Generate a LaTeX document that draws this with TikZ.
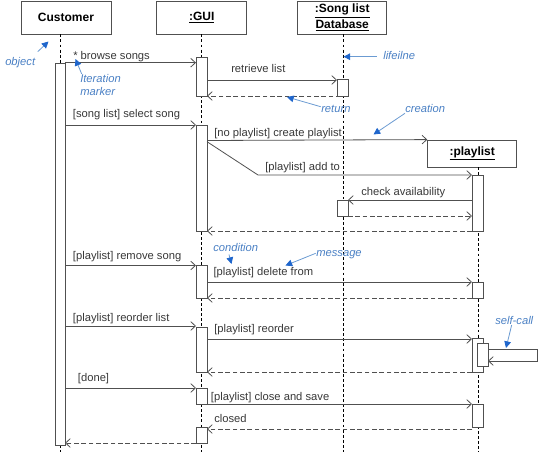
\documentclass[tikz,border=0pt]{standalone}
\usepackage{fontspec}
\setmainfont{Liberation Sans}
\usetikzlibrary{arrows.meta,fit}
\definecolor{ln}{HTML}{505050}
\definecolor{tx}{HTML}{383838}
\definecolor{bt}{HTML}{4A80C4}
\definecolor{bl}{HTML}{6B9BD2}
\definecolor{bh}{HTML}{1F66CC}
\tikzset{
  headbox/.style={draw=ln, line width=0.6pt, fill=white, inner sep=0pt, text=black,
    font=\fontsize{9}{12}\selectfont\bfseries, align=center},
  actbar/.style={draw=ln, line width=0.6pt, fill=white, inner sep=0pt, outer sep=0pt},
  life/.style={draw=black, line width=0.5pt, dash pattern=on 2.2pt off 1.6pt},
  msg/.style={draw=ln, line width=0.6pt, -{Straight Barb[length=3.5pt,width=6.5pt]}},
  ret/.style={msg, dash pattern=on 3.5pt off 2pt},
  lbl/.style={font=\fontsize{8.4}{10}\selectfont, text=tx, inner sep=0pt, anchor=base west},
  note/.style={font=\fontsize{8.4}{9.5}\selectfont\itshape, text=bt, inner sep=0pt, anchor=base west},
  pointer/.style={draw=bl, line width=0.6pt, -{Triangle[length=5pt,width=5pt,color=bh]}},
}
\begin{document}
\begin{tikzpicture}[x=0.75pt,y=-0.75pt]
\useasboundingbox (0,0) rectangle (550,452);

% header boxes
\node[headbox, minimum width=67.5pt, minimum height=24.75pt] (cust) at (66,17.5) {Customer};
\node[headbox, minimum width=67.5pt, minimum height=24.75pt] (gui) at (201.7,17.5) {\underline{:GUI}};
\node[headbox, minimum width=66.75pt, minimum height=24.75pt] (db) at (342.2,17.5) {\underline{:Song list}\\\underline{Database}};
\node[headbox, minimum width=66.75pt, minimum height=20.25pt] (pl) at (472.2,153.5) {\underline{:playlist}};

% lifelines
\draw[life] (cust.south -| 60,0) -- (60,452);
\draw[life] (gui.south -| 201,0) -- (201,452);
\draw[life] (db.south -| 343,0) -- (343,452);
\draw[life] (pl.south -| 478,0) -- (478,452);

% activation bars
\node[actbar, fit={(55,63)(65,445)}] (c1) {};
\node[actbar, fit={(196,57)(207,96)}] (g1) {};
\node[actbar, fit={(337,79)(348,96)}] (d1) {};
\node[actbar, fit={(196,125)(207,231)}] (g2) {};
\node[actbar, fit={(472,175)(483,231)}] (p1) {};
\node[actbar, fit={(337,200)(348,216)}] (d2) {};
\node[actbar, fit={(196,265.5)(207,298)}] (g3) {};
\node[actbar, fit={(472,282)(483,298)}] (p2) {};
\node[actbar, fit={(196,327)(207,372)}] (g4) {};
\node[actbar, fit={(472,338.5)(483,372)}] (p3) {};
\node[actbar, fit={(477,343.5)(488,366)}] (p3s) {};
\node[actbar, fit={(196,388)(207,404)}] (g5) {};
\node[actbar, fit={(472,404)(483,427)}] (p4) {};
\node[actbar, fit={(196,427)(207,443)}] (g6) {};

% messages
\draw[msg] (c1.east |- 0,62.7) -- (g1.west |- 0,62.7);
\draw[msg] (g1.east |- 0,80) -- (d1.west |- 0,80);
\draw[ret] (d1.south east) -- (g1.south east);
\draw[msg] (c1.east |- g2.north) -- (g2.north west);
\draw[msg] (g2.east |- 0,140.5) -- (pl.north west);
\coordinate (bend) at (258,175);
\draw[msg] (g2.east |- 0,141.7) -- (bend) -- (p1.north west);
\draw[msg] (p1.west |- d2.north) -- (d2.north east);
\draw[ret] (d2.south east) -- (p1.west |- d2.south);
\draw[ret] (p1.south west) -- (g2.south east);
\draw[msg] (c1.east |- g3.north) -- (g3.north west);
\draw[msg] (g3.east |- p2.north) -- (p2.north west);
\draw[ret] (p2.south west) -- (g3.south east);
\draw[msg] (c1.east |- 0,326) -- (g4.west |- 0,326);
\draw[msg] (g4.east |- 0,339) -- (p3.west |- 0,339);
\coordinate (sc1) at (537,349.3);
\coordinate (sc2) at (537,361);
\draw[msg] (p3s.east |- sc1) -- (sc1) -- (sc2) -- (p3s.east |- sc2);
\draw[ret] (p3.south west) -- (g4.south east);
\draw[msg] (c1.east |- g5.north) -- (g5.north west);
\draw[msg] (g5.south east) -- (p4.north west);
\coordinate (cl) at (0,429);
\draw[ret] (p4.west |- cl) -- (g6.east |- cl);
\draw[ret] (g6.south west) -- (c1.east |- g6.south);

% message labels
\node[lbl] (l1) at (73,59.5) {* browse songs};
\node[lbl] (l2) at (231,73) {retrieve list};
\node[lbl] (l3) at (72.7,118) {[song list] select song};
\node[lbl] (l4) at (214,136.5) {[no playlist] create playlist};
\node[lbl] (l5) at (265,170.5) {[playlist] add to};
\node[lbl] (l6) at (361,195.5) {check availability};
\node[lbl] (l7) at (72.7,259.5) {[playlist] remove song};
\node[lbl] (l8) at (213.3,276) {[playlist] delete from};
\node[lbl] (l9) at (72.7,321.5) {[playlist] reorder list};
\node[lbl] (l10) at (214,333) {[playlist] reorder};
\node[lbl] (l11) at (77.7,381.5) {[done]};
\node[lbl] (l12) at (210.7,400.5) {[playlist] close and save};
\node[lbl] (l13) at (214,422) {closed};

% annotations
\node[note] (n1) at (5,65.5) {object};
\node[note, anchor=north west, align=left] (n2) at (80,74.5) {Iteration\\marker};
\node[note] (n3) at (383,60) {lifeilne};
\node[note] (n4) at (321,113) {return};
\node[note] (n5) at (405,113) {creation};
\node[note] (n6) at (213,251.5) {condition};
\node[note] (n7) at (316,256.5) {message};
\node[note] (n8) at (495,324.5) {self-call};

\coordinate (a1s) at (37.7,51.7);  \coordinate (a1e) at (48.5,41.5);
\coordinate (a2s) at (81.7,74);    \coordinate (a2e) at (75.5,59);
\coordinate (a3s) at (376.7,56.7); \coordinate (a3e) at (343.5,56.7);
\coordinate (a4s) at (320.7,106.7);\coordinate (a4e) at (287,97);
\coordinate (a5s) at (405,113.3);  \coordinate (a5e) at (373.5,134.5);
\coordinate (a6s) at (229,254.5);  \coordinate (a6e) at (231.5,264);
\coordinate (a7s) at (315.7,253.3);\coordinate (a7e) at (285.5,265.5);
\coordinate (a8s) at (511.7,325);  \coordinate (a8e) at (506,348);
\draw[pointer] (a1s) -- (a1e);
\draw[pointer] (a2s) -- (a2e);
\draw[pointer] (a3s) -- (a3e);
\draw[pointer] (a4s) -- (a4e);
\draw[pointer] (a5s) -- (a5e);
\draw[pointer] (a6s) -- (a6e);
\draw[pointer] (a7s) -- (a7e);
\draw[pointer] (a8s) -- (a8e);
\end{tikzpicture}
\end{document}
